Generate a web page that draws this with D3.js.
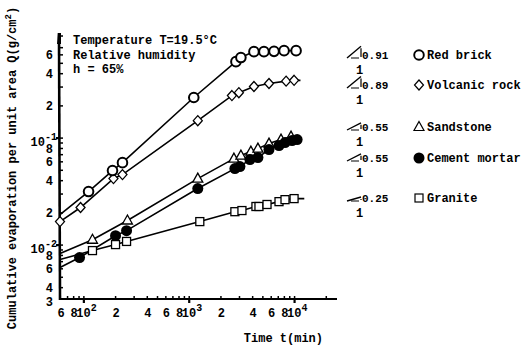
<!DOCTYPE html>
<html lang="en">
<head>
<meta charset="UTF-8"/>
<title>Cumulative evaporation vs time</title>
<script src="https://d3js.org/d3.v7.min.js"></script>
<style>
  body { margin: 0; background: #fff; }
  text { font-family: "Liberation Mono", "DejaVu Sans Mono", monospace; font-weight: bold; fill: #000; }
</style>
</head>
<body>
<script>
    // values: [time t (min), Q (g/cm2)]
    var redBrick = [[112,0.0313],[189,0.0492],[235,0.0583],[1117,0.237],[2806,0.513],[3127,0.560],
                    [4159,0.636],[5176,0.636],[6451,0.64],[8035,0.65],[10450,0.65]];
    var volcanicRock = [[60,0.0164],[94,0.0222],[193,0.0414],[235,0.0451],[1219,0.144],[2570,0.247],
                        [2992,0.263],[4159,0.300],[5780,0.320],[8400,0.337],[10000,0.343]];
    var sandstone = [[122,0.0111],[262,0.0168],[1219,0.0414],[2684,0.0636],[3128,0.0679],[3890,0.074],
                     [4538,0.0789],[5780,0.0879],[7516,0.0958],[9354,0.102]];
    var cementMortar = [[92,0.00756],[202,0.0121],[257,0.0135],[1219,0.0334],[2742,0.0513],[3061,0.0536],
                        [3811,0.0623],[4538,0.065],[5780,0.0773],[7194,0.0842],[8203,0.0898],[9570,0.0937],[10690,0.0958]];
    var granite = [[122,0.00879],[202,0.0100],[257,0.0107],[1274,0.0164],[2742,0.0203],[3200,0.0208],
                   [4345,0.0227],[4642,0.0227],[5536,0.0237],[7194,0.0252],[8203,0.0263],[10000,0.0269]];

    var seriesNames = ["Red brick", "Volcanic rock", "Sandstone", "Cement mortar", "Granite"];
    var seriesSymbols = ["circle", "diamond", "triangle", "dot", "square"];
    var slopeLabels = ["0.91", "0.89", "0.55", "0.55", "0.25"];
    // where each drawn line meets the left axis (Q at t = 60) and where it stops on the right (t)
    var lineStartQ = [0.0191, 0.0164, 0.00824, 0.0061, 0.00724];
    var lineEndT = [11500, 11500, 9800, 11200, 12500];

    var xTickValues = [60, 80, 100, 200, 400, 600, 800, 1000, 2000, 4000, 6000, 8000, 10000];
    var xTickLabels = ["6", "8", "10^2", "2", "4", "6", "8", "10^3", "2", "4", "6", "8", "10^4"];
    var xMinor = [70, 90, 300, 500, 700, 900, 3000, 5000, 7000, 9000, 20000];
    var yTickValues = [0.003, 0.004, 0.006, 0.008, 0.01, 0.02, 0.04, 0.06, 0.08, 0.1, 0.2, 0.4, 0.6];
    var yTickLabels = ["3", "4", "6", "8", "10^-2", "2", "4", "6", "8", "10^-1", "2", "4", "6"];
    var yMinor = [0.005, 0.007, 0.009, 0.03, 0.05, 0.07, 0.09, 0.3, 0.5, 0.7, 0.9];

    var w = 522, h = 345;
    var svg = d3.select("body").append("svg").attr("width", w).attr("height", h);

    var x = d3.scaleLog().domain([60, 25000]).range([60, 336]);
    var y = d3.scaleLog().domain([0.0031, 0.95]).range([299, 33]);

    // --- axes ---
    var xAll = xTickValues.concat(xMinor).filter(function(v) { return v !== 60; });
    svg.append("g").attr("transform", "translate(0,299)")
        .call(d3.axisBottom(x).tickValues(xAll).tickSizeInner(-3).tickSizeOuter(0).tickFormat(""))
        .call(function(g) { g.select(".domain").remove(); g.selectAll("line").attr("stroke-width", 1.5); });
    svg.append("g").attr("transform", "translate(0,299)")
        .call(d3.axisBottom(x).tickValues([100, 1000, 10000]).tickSizeInner(4).tickSizeOuter(0).tickFormat(""))
        .call(function(g) { g.select(".domain").remove(); g.selectAll("line").attr("stroke-width", 2.2); });

    var yAll = yTickValues.concat(yMinor).filter(function(v) { return v !== 0.003; });
    svg.append("g").attr("transform", "translate(60,0)")
        .call(d3.axisLeft(y).tickValues(yAll).tickSizeInner(-3).tickSizeOuter(0).tickFormat(""))
        .call(function(g) { g.select(".domain").remove(); g.selectAll("line").attr("stroke-width", 1.5); });
    svg.append("g").attr("transform", "translate(60,0)")
        .call(d3.axisLeft(y).tickValues([0.01, 0.1]).tickSizeInner(4).tickSizeOuter(0).tickFormat(""))
        .call(function(g) { g.select(".domain").remove(); g.selectAll("line").attr("stroke-width", 2.2); });

    svg.append("line").attr("x1", 59).attr("x2", 337).attr("y1", 299).attr("y2", 299)
        .attr("stroke", "#000").attr("stroke-width", 2.2);
    svg.append("line").attr("x1", 60).attr("x2", 59).attr("y1", 300).attr("y2", 33)
        .attr("stroke", "#000").attr("stroke-width", 2.6);
    svg.append("path").attr("d", "M57,44 L58,33 L61,33 L61,44 Z").attr("fill", "#000");

    // label with optional superscript after "^"
    function addLabel(sel, label) {
        var parts = label.split("^");
        sel.append("tspan").text(parts[0]);
        if (parts.length > 1) {
            sel.append("tspan").attr("dy", -6).attr("font-size", "10px").text(parts[1]);
        }
    }

    xTickValues.forEach(function(v, i) {
        var lab = xTickLabels[i];
        var t = svg.append("text").attr("y", 317).attr("font-size", "12px");
        if (lab.indexOf("^") >= 0) {
            t.attr("x", x(v) - 7).attr("text-anchor", "start");
        } else {
            t.attr("x", x(v) + 1).attr("text-anchor", "middle");
        }
        addLabel(t, lab);
    });

    yTickValues.forEach(function(v, i) {
        var lab = yTickLabels[i];
        var t = svg.append("text").attr("y", y(v) + 5).attr("font-size", "12px")
            .attr("text-anchor", "end");
        if (lab.indexOf("^") >= 0) {
            t.attr("x", 57).attr("y", y(v) + 8);
        } else {
            t.attr("x", 53);
        }
        addLabel(t, lab);
    });

    svg.append("text").attr("x", 323).attr("y", 342).attr("text-anchor", "end")
        .attr("font-size", "12px").text("Time t(min)");

    var yt = svg.append("text").attr("transform", "translate(16,168) rotate(-90)")
        .attr("text-anchor", "middle").attr("font-size", "12px");
    yt.append("tspan").text("Cumulative evaporation per unit area Q(g/cm");
    yt.append("tspan").attr("dy", -5).attr("font-size", "9px").text("2");
    yt.append("tspan").attr("dy", 5).text(")");

    // conditions
    ["Temperature T=19.5\u00b0C", "Relative humidity", "h = 65%"].forEach(function(s, i) {
        svg.append("text").attr("x", 73).attr("y", 44 + i * 14.5).attr("font-size", "12px").text(s);
    });

    // --- markers ---
    function drawMarker(g, type, cx, cy, sw) {
        sw = sw || 1.3;
        if (type === "circle") {
            g.append("circle").attr("cx", cx).attr("cy", cy).attr("r", 4.8)
                .attr("fill", "#fff").attr("stroke", "#000").attr("stroke-width", sw + 0.7);
        } else if (type === "dot") {
            g.append("circle").attr("cx", cx).attr("cy", cy).attr("r", 5.5).attr("fill", "#000");
        } else if (type === "diamond") {
            g.append("path").attr("d", "M" + cx + "," + (cy - 5) + "L" + (cx + 4.5) + "," + cy +
                "L" + cx + "," + (cy + 5) + "L" + (cx - 4.5) + "," + cy + "Z")
                .attr("fill", "#fff").attr("stroke", "#000").attr("stroke-width", sw);
        } else if (type === "triangle") {
            g.append("path").attr("d", "M" + cx + "," + (cy - 5.5) + "L" + (cx + 5) + "," + (cy + 3.5) +
                "L" + (cx - 5) + "," + (cy + 3.5) + "Z")
                .attr("fill", "#fff").attr("stroke", "#000").attr("stroke-width", sw);
        } else if (type === "square") {
            g.append("rect").attr("x", cx - 4).attr("y", cy - 4).attr("width", 8).attr("height", 8)
                .attr("fill", "#fff").attr("stroke", "#000").attr("stroke-width", sw);
        }
    }

    var allSeries = [redBrick, volcanicRock, sandstone, cementMortar, granite];
    var line = d3.line().x(function(d) { return x(d[0]); }).y(function(d) { return y(d[1]); });
    var drawOrder = [2, 3, 4, 1, 0];

    drawOrder.forEach(function(i) {
        var pts = allSeries[i];
        var last = pts[pts.length - 1];
        var path = [[60, lineStartQ[i]]].concat(pts.filter(function(d) { return d[0] > 60; }))
            .concat([[lineEndT[i], last[1]]]);
        var g = svg.append("g");
        g.append("path").attr("d", line(path)).attr("fill", "none")
            .attr("stroke", "#000").attr("stroke-width", 1.6);
        pts.forEach(function(d) { drawMarker(g, seriesSymbols[i], x(d[0]), y(d[1])); });
    });

    // --- legend ---
    var rowY = [55, 85, 127, 158, 198];
    seriesNames.forEach(function(name, i) {
        var cy = rowY[i];
        var s = +slopeLabels[i];
        var ht = Math.max(4, 13 * s);
        var bx = 347, by = cy + 3;
        svg.append("path").attr("d", "M" + bx + "," + by + "L" + (bx + 14) + "," + (by - ht))
            .attr("stroke", "#000").attr("stroke-width", 1.4).attr("fill", "none");
        svg.append("path").attr("d", "M" + (bx + 4) + "," + by + "L" + (bx + 12) + "," + by +
                "M" + (bx + 14) + "," + (by - ht + 2) + "L" + (bx + 14) + "," + (by - 1))
            .attr("stroke", "#000").attr("stroke-width", 1.2).attr("fill", "none");
        svg.append("text").attr("x", 362).attr("y", cy + 4).attr("font-size", "11px").text(slopeLabels[i]);
        svg.append("text").attr("x", 356).attr("y", cy + 19).attr("font-size", "12px").text("1");
        drawMarker(svg, seriesSymbols[i], 419, cy, 1.2);
        svg.append("text").attr("x", 427).attr("y", cy + 4).attr("font-size", "12px").text(name);
    });
</script>
</body>
</html>
